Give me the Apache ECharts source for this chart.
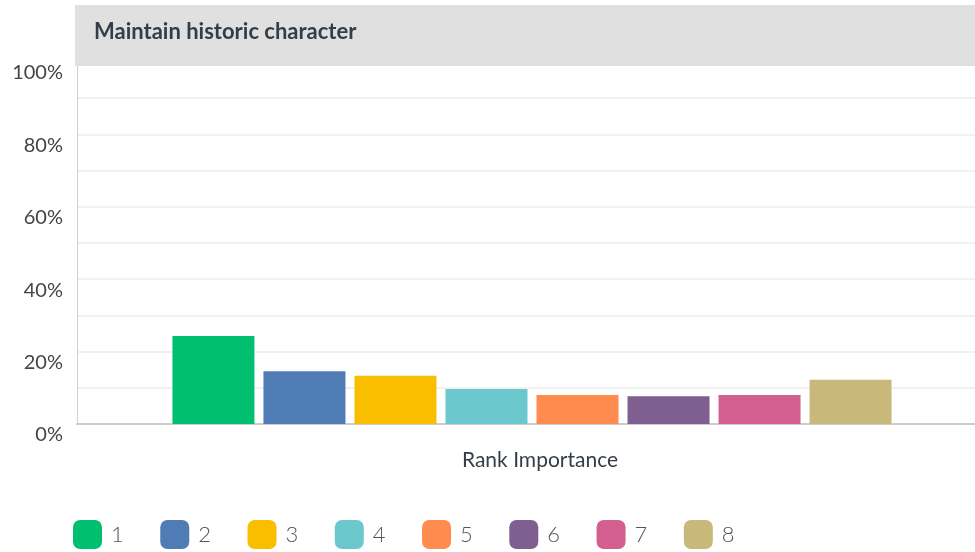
<!DOCTYPE html>
<html>
<head>
<meta charset="utf-8">
<script src="https://cdn.jsdelivr.net/npm/echarts@6/dist/echarts.min.js"></script>
<style>
  html, body { margin: 0; padding: 0; background: #fff; }
  #chart { width: 975px; height: 552px; }
</style>
</head>
<body>
<div id="chart"></div>
<script>
// data
const categories = ['Rank Importance']
const rankNames = ['1', '2', '3', '4', '5', '6', '7', '8']
const rankValues = [24.3, 14.6, 13.3, 9.7, 8.0, 7.7, 8.0, 12.2]
const rankColors = ['#00BF6F', '#507CB6', '#F9BE00', '#6BC8CD', '#FF8B4F', '#7F5F90', '#D25F90', '#C8B879']
const yTicks = [0, 20, 40, 60, 80, 100]

const chart = echarts.init(document.getElementById('chart'))

const series = rankNames.map((name, i) => ({
  name: name,
  type: 'bar',
  data: [rankValues[i]],
  barWidth: 82,
  barGap: '11%',
  itemStyle: { color: rankColors[i] },
  emphasis: { disabled: true }
}))

chart.setOption({
  animation: false,
  textStyle: { fontFamily: 'Lato' },
  graphic: [
    {
      type: 'rect',
      z: 100,
      shape: { x: 75, y: 5, width: 900, height: 61 },
      style: { fill: '#e0e0e0' }
    },
    {
      type: 'text',
      z: 101,
      left: 94,
      top: 21,
      style: {
        text: 'Maintain historic character',
        font: 'bold 22px Lato',
        fill: '#333e48'
      }
    }
  ],
  grid: { left: 77, top: 62, width: 910, height: 362, outerBoundsMode: 'none', containLabel: false },
  legend: {
    data: rankNames,
    left: 68,
    top: 515,
    icon: 'roundRect',
    itemWidth: 29,
    itemHeight: 29,
    itemGap: 36.5,
    textStyle: { fontSize: 22, fontWeight: 300, color: '#555', fontFamily: 'Lato', padding: [0, 0, 0, 4] }
  },
  xAxis: {
    type: 'category',
    data: categories,
    axisTick: { show: false },
    axisLine: { lineStyle: { color: '#ccc', width: 2 } },
    axisLabel: { fontSize: 21, color: '#333e48', margin: 26, padding: [0, 0, 0, 16] }
  },
  yAxis: {
    type: 'value',
    min: 0,
    max: 100,
    interval: 10,
    axisLine: { show: true, lineStyle: { color: '#d0d0d0', width: 1 } },
    axisTick: { show: false },
    splitLine: { lineStyle: { color: '#ececec', width: 1.5 } },
    axisLabel: {
      fontSize: 20,
      color: '#444',
      margin: 14,
      verticalAlign: 'top',
      padding: [1, 0, 0, 0],
      formatter: v => (yTicks.indexOf(v) >= 0 ? v + '%' : '')
    }
  },
  series: series
})
</script>
</body>
</html>
